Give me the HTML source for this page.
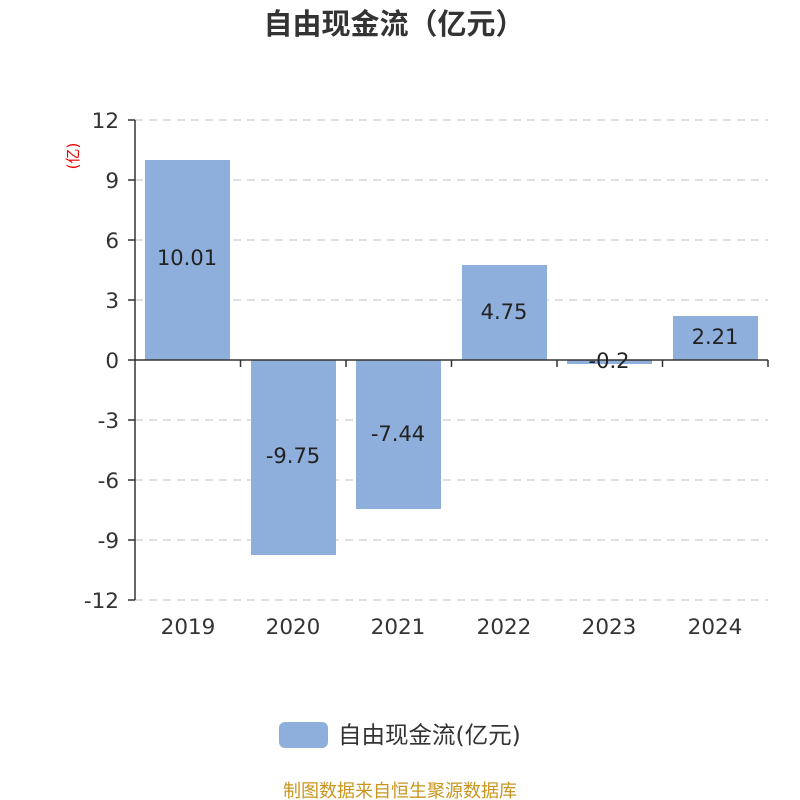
<!DOCTYPE html>
<html><head><meta charset="utf-8"><style>
body{margin:0;background:#fff;}
svg{display:block;font-family:"DejaVu Sans","Noto Sans CJK SC",sans-serif;}
</style></head><body>
<svg width="800" height="800" viewBox="0 0 800 800" xmlns="http://www.w3.org/2000/svg">
<text x="394" y="34" text-anchor="middle" font-size="29" font-weight="bold" fill="#333" font-family="Noto Sans CJK SC, sans-serif">自由现金流（亿元）</text>
<g stroke="#ccc" stroke-width="1.3" stroke-dasharray="8,6">
<line x1="135" y1="120" x2="768" y2="120"/><line x1="135" y1="180" x2="768" y2="180"/>
<line x1="135" y1="240" x2="768" y2="240"/><line x1="135" y1="300" x2="768" y2="300"/>
<line x1="135" y1="420" x2="768" y2="420"/><line x1="135" y1="480" x2="768" y2="480"/>
<line x1="135" y1="540" x2="768" y2="540"/><line x1="135" y1="600" x2="768" y2="600"/>
</g>
<g fill="#8eaedb">
<rect x="145" y="160" width="85" height="200"/>
<rect x="251" y="360" width="85" height="195"/>
<rect x="356" y="360" width="85" height="149"/>
<rect x="462" y="265" width="85" height="95"/>
<rect x="567" y="360" width="85" height="4"/>
<rect x="673" y="316" width="85" height="44"/>
</g>
<g stroke="#333" stroke-width="1.5">
<line x1="135" y1="120" x2="135" y2="600"/>
<line x1="135" y1="360" x2="768" y2="360"/>
<line x1="128" y1="120" x2="135" y2="120"/><line x1="128" y1="180" x2="135" y2="180"/>
<line x1="128" y1="240" x2="135" y2="240"/><line x1="128" y1="300" x2="135" y2="300"/>
<line x1="128" y1="360" x2="135" y2="360"/><line x1="128" y1="420" x2="135" y2="420"/>
<line x1="128" y1="480" x2="135" y2="480"/><line x1="128" y1="540" x2="135" y2="540"/>
<line x1="128" y1="600" x2="135" y2="600"/>
<line x1="240.5" y1="360" x2="240.5" y2="367"/><line x1="346" y1="360" x2="346" y2="367"/>
<line x1="451.5" y1="360" x2="451.5" y2="367"/><line x1="557" y1="360" x2="557" y2="367"/>
<line x1="662.5" y1="360" x2="662.5" y2="367"/><line x1="768" y1="360" x2="768" y2="367"/>
</g>
<g font-size="21.5" fill="#333" text-anchor="end">
<text x="119" y="128">12</text><text x="119" y="188">9</text><text x="119" y="248">6</text>
<text x="119" y="308">3</text><text x="119" y="368">0</text><text x="119" y="428">-3</text>
<text x="119" y="488">-6</text><text x="119" y="548">-9</text><text x="119" y="608">-12</text>
</g>
<g font-size="21.5" fill="#333" text-anchor="middle">
<text x="188" y="634">2019</text><text x="293" y="634">2020</text><text x="398" y="634">2021</text>
<text x="504" y="634">2022</text><text x="609" y="634">2023</text><text x="715" y="634">2024</text>
</g>
<g font-size="21" fill="#222" text-anchor="middle">
<text x="187" y="265">10.01</text><text x="293" y="463">-9.75</text><text x="398" y="441">-7.44</text>
<text x="504" y="319">4.75</text><text x="609" y="368">-0.2</text><text x="715" y="344">2.21</text>
</g>
<text transform="translate(78,156) rotate(-90)" font-size="15" fill="#e00" text-anchor="middle">(亿)</text>
<rect x="279" y="722" width="49" height="26" rx="6" fill="#8eaedb"/>
<text x="338" y="743" font-size="23.5" fill="#333">自由现金流(亿元)</text>
<text x="400" y="797" font-size="18" fill="#c8961e" text-anchor="middle" font-family="Noto Sans CJK SC, sans-serif">制图数据来自恒生聚源数据库</text>
</svg>
</body></html>
